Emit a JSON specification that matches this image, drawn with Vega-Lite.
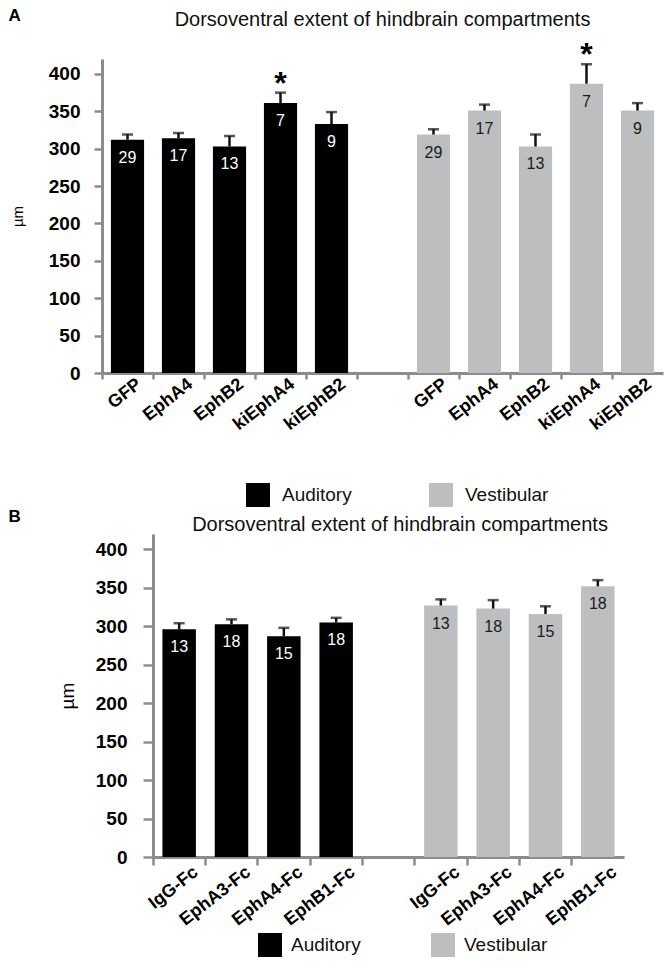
{
  "$schema": "https://vega.github.io/schema/vega-lite/v6.json",
  "padding": {"left": 8, "top": 6, "right": 2, "bottom": 2},
  "spacing": 0,
  "config": {
    "font": "Liberation Sans",
    "view": {"stroke": null}
  },
  "resolve": {"scale": {"color": "independent"}, "legend": {"color": "independent"}},
  "datasets": {
    "dsa": [
      {"key": "Auditory|GFP", "group": "Auditory", "value": 312, "err": 319, "n": 29, "star": false},
      {"key": "Auditory|EphA4", "group": "Auditory", "value": 314, "err": 321, "n": 17, "star": false},
      {"key": "Auditory|EphB2", "group": "Auditory", "value": 303, "err": 317, "n": 13, "star": false},
      {"key": "Auditory|kiEphA4", "group": "Auditory", "value": 361, "err": 375, "n": 7, "star": true},
      {"key": "Auditory|kiEphB2", "group": "Auditory", "value": 333, "err": 349, "n": 9, "star": false},
      {"key": "Vestibular|GFP", "group": "Vestibular", "value": 319, "err": 326, "n": 29, "star": false},
      {"key": "Vestibular|EphA4", "group": "Vestibular", "value": 351, "err": 359, "n": 17, "star": false},
      {"key": "Vestibular|EphB2", "group": "Vestibular", "value": 303, "err": 319, "n": 13, "star": false},
      {"key": "Vestibular|kiEphA4", "group": "Vestibular", "value": 387, "err": 413, "n": 7, "star": true},
      {"key": "Vestibular|kiEphB2", "group": "Vestibular", "value": 351, "err": 361, "n": 9, "star": false}
    ],
    "dsb": [
      {"key": "Auditory|IgG-Fc", "group": "Auditory", "value": 296, "err": 304, "n": 13},
      {"key": "Auditory|EphA3-Fc", "group": "Auditory", "value": 302.5, "err": 309, "n": 18},
      {"key": "Auditory|EphA4-Fc", "group": "Auditory", "value": 287, "err": 298, "n": 15},
      {"key": "Auditory|EphB1-Fc", "group": "Auditory", "value": 305, "err": 311, "n": 18},
      {"key": "Vestibular|IgG-Fc", "group": "Vestibular", "value": 327, "err": 335, "n": 13},
      {"key": "Vestibular|EphA3-Fc", "group": "Vestibular", "value": 323, "err": 334, "n": 18},
      {"key": "Vestibular|EphA4-Fc", "group": "Vestibular", "value": 316, "err": 326, "n": 15},
      {"key": "Vestibular|EphB1-Fc", "group": "Vestibular", "value": 352, "err": 360, "n": 18}
    ]
  },
  "vconcat": [
    {
      "width": 561,
      "height": 314,
      "data": {"name": "dsa"},
      "title": {"text": "Dorsoventral extent of hindbrain compartments", "fontSize": 20, "fontWeight": "normal", "color": "#111", "baseline": "bottom", "offset": -44, "anchor": "middle"},
      "encoding": {
        "x": {
          "field": "key", "type": "nominal",
          "scale": {"domain": ["Auditory|GFP", "Auditory|EphA4", "Auditory|EphB2", "Auditory|kiEphA4", "Auditory|kiEphB2", "gap", "Vestibular|GFP", "Vestibular|EphA4", "Vestibular|EphB2", "Vestibular|kiEphA4", "Vestibular|kiEphB2"], "paddingInner": 0, "paddingOuter": 0},
          "axis": {
            "title": "A", "titleX": -94, "titleY": -358, "titleAngle": 0, "titleAlign": "left", "titleBaseline": "middle", "titleFontSize": 17, "titleFontWeight": "bold", "titleColor": "#000",
            "labelExpr": "indexof(datum.value, '|') >= 0 ? split(datum.value, '|')[1] : ''",
            "bandPosition": 0,
            "labelAngle": -38, "labelAlign": "right", "labelBaseline": "middle", "labelFontSize": 18, "labelFontWeight": "bold", "labelColor": "#000", "labelPadding": 3, "labelOffset": 12, "labelOverlap": false,
            "tickSize": 6, "tickWidth": 2.5, "tickColor": "#8c8c8c", "domainColor": "#8c8c8c", "domainWidth": 3
          }
        }
      },
      "layer": [
        {
          "mark": {"type": "bar", "width": {"band": 0.65}},
          "encoding": {
            "y": {
              "field": "value", "type": "quantitative",
              "scale": {"domain": [0, 420], "nice": false},
              "axis": {"title": "µm", "titleFontSize": 15, "titleFontWeight": "normal", "titleColor": "#000", "titlePadding": 23, "values": [0, 50, 100, 150, 200, 250, 300, 350, 400], "tickCount": 12, "labelOverlap": false, "labelFontSize": 19, "labelFontWeight": "bold", "labelColor": "#000", "labelPadding": 14, "tickSize": 8, "tickWidth": 2.5, "tickColor": "#8c8c8c", "domainColor": "#8c8c8c", "domainWidth": 3, "grid": false}
            },
            "color": {
              "field": "group", "type": "nominal",
              "scale": {"domain": ["Auditory", "Vestibular"], "range": ["#000000", "#bcbec0"]},
              "legend": {"orient": "none", "legendX": 144, "legendY": 424, "direction": "horizontal", "title": null, "symbolType": "square", "symbolSize": 576, "symbolStrokeWidth": 0, "symbolOpacity": 1, "labelFontSize": 19, "labelColor": "#111", "labelOffset": 12, "columnPadding": 77}
            }
          }
        },
        {
          "mark": {"type": "rule", "strokeWidth": 2.5, "color": "#111"},
          "encoding": {"y": {"field": "value", "type": "quantitative"}, "y2": {"field": "err"}}
        },
        {
          "mark": {"type": "tick", "thickness": 2.5, "size": 11, "color": "#111"},
          "encoding": {"y": {"field": "err", "type": "quantitative"}}
        },
        {
          "mark": {"type": "text", "fontSize": 16, "dy": 18, "baseline": "middle"},
          "encoding": {
            "y": {"field": "value", "type": "quantitative"},
            "text": {"field": "n", "type": "quantitative"},
            "color": {"condition": {"test": "datum.group === 'Auditory'", "value": "#ffffff"}, "value": "#1a1a1a"}
          }
        },
        {
          "transform": [{"filter": "datum.star"}],
          "mark": {"type": "text", "fontSize": 32, "fontWeight": "bold", "baseline": "alphabetic", "dy": 1, "color": "#000"},
          "encoding": {"y": {"field": "err", "type": "quantitative"}, "text": {"value": "*"}}
        }
      ]
    },
    {
      "width": 522,
      "height": 323,
      "data": {"name": "dsb"},
      "title": {"text": "Dorsoventral extent of hindbrain compartments", "fontSize": 20, "fontWeight": "normal", "color": "#111", "baseline": "bottom", "offset": -48, "anchor": "middle", "dx": 37},
      "encoding": {
        "x": {
          "field": "key", "type": "nominal",
          "scale": {"domain": ["Auditory|IgG-Fc", "Auditory|EphA3-Fc", "Auditory|EphA4-Fc", "Auditory|EphB1-Fc", "gap", "Vestibular|IgG-Fc", "Vestibular|EphA3-Fc", "Vestibular|EphA4-Fc", "Vestibular|EphB1-Fc"], "paddingInner": 0, "paddingOuter": 0, "range": [51, 522]},
          "axis": {
            "title": "B", "titleX": -94, "titleY": -341, "titleAngle": 0, "titleAlign": "left", "titleBaseline": "middle", "titleFontSize": 17, "titleFontWeight": "bold", "titleColor": "#000",
            "labelExpr": "indexof(datum.value, '|') >= 0 ? split(datum.value, '|')[1] : ''",
            "bandPosition": 0,
            "labelAngle": -38, "labelAlign": "right", "labelBaseline": "middle", "labelFontSize": 18, "labelFontWeight": "bold", "labelColor": "#000", "labelPadding": 5, "labelOffset": 17, "labelOverlap": false,
            "tickSize": 8, "tickWidth": 2.5, "tickColor": "#8c8c8c", "domainColor": "#8c8c8c", "domainWidth": 3
          }
        }
      },
      "layer": [
        {
          "mark": {"type": "bar", "width": {"band": 0.64}},
          "encoding": {
            "y": {
              "field": "value", "type": "quantitative",
              "scale": {"domain": [0, 420], "nice": false},
              "axis": {"offset": -51, "title": "µm", "titleFontSize": 19, "titleFontWeight": "normal", "titleColor": "#000", "titlePadding": 18, "values": [0, 50, 100, 150, 200, 250, 300, 350, 400], "tickCount": 12, "labelOverlap": false, "labelFontSize": 19, "labelFontWeight": "bold", "labelColor": "#000", "labelPadding": 16, "tickSize": 10, "tickWidth": 2.5, "tickColor": "#8c8c8c", "domainColor": "#8c8c8c", "domainWidth": 3, "grid": false}
            },
            "color": {
              "field": "group", "type": "nominal",
              "scale": {"domain": ["Auditory", "Vestibular"], "range": ["#000000", "#bcbec0"]},
              "legend": {"orient": "none", "legendX": 156, "legendY": 399, "direction": "horizontal", "title": null, "symbolType": "square", "symbolSize": 576, "symbolStrokeWidth": 0, "symbolOpacity": 1, "labelFontSize": 19, "labelColor": "#111", "labelOffset": 9, "columnPadding": 70}
            }
          }
        },
        {
          "mark": {"type": "rule", "strokeWidth": 2.5, "color": "#111"},
          "encoding": {"y": {"field": "value", "type": "quantitative"}, "y2": {"field": "err"}}
        },
        {
          "mark": {"type": "tick", "thickness": 2.5, "size": 11, "color": "#111"},
          "encoding": {"y": {"field": "err", "type": "quantitative"}}
        },
        {
          "mark": {"type": "text", "fontSize": 16, "dy": 18, "baseline": "middle"},
          "encoding": {
            "y": {"field": "value", "type": "quantitative"},
            "text": {"field": "n", "type": "quantitative"},
            "color": {"condition": {"test": "datum.group === 'Auditory'", "value": "#ffffff"}, "value": "#1a1a1a"}
          }
        }
      ]
    }
  ]
}
